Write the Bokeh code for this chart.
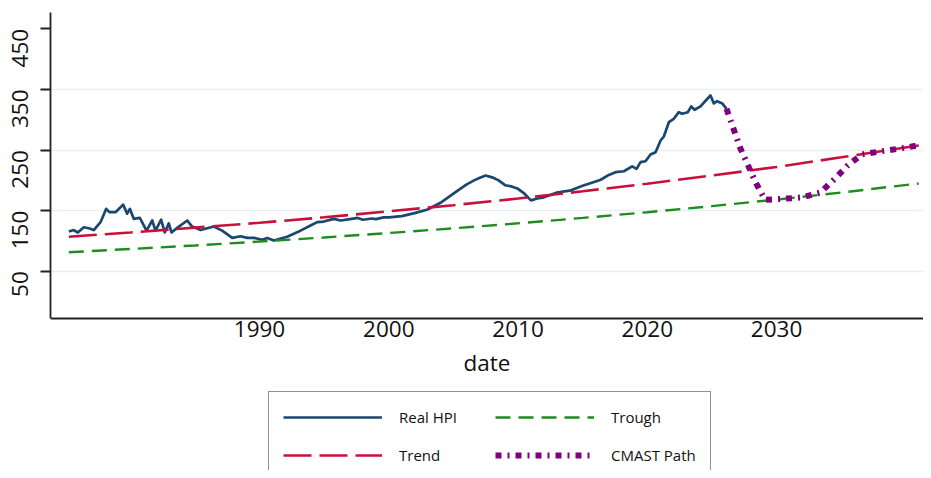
import math
from bokeh.plotting import figure
from bokeh.models import FixedTicker, Legend, LegendItem, Range1d
from bokeh.embed import file_html
from bokeh.resources import INLINE

# ---- data ----
hpi_year = [1975.25, 1975.63, 1975.94, 1976.41, 1976.79, 1977.18, 1977.70, 1978.14, 1978.39, 1978.86,
            1979.45, 1979.76, 1979.97, 1980.27, 1980.74, 1981.26, 1981.70, 1981.95, 1982.39, 1982.67,
            1982.98, 1983.19, 1983.63, 1984.41, 1984.79, 1985.44, 1986.46, 1987.11, 1987.89, 1988.53,
            1989.05, 1989.56, 1990.21, 1990.60, 1991.11, 1992.14, 1993.17, 1993.95, 1994.46, 1994.97,
            1995.75, 1996.27, 1997.0, 1997.6, 1998.0, 1998.7, 1999.0, 1999.6, 2000.0, 2001.0,
            2002.0, 2003.0, 2004.0, 2005.0, 2006.0, 2006.6, 2007.0, 2007.5, 2008.0, 2008.5,
            2009.0, 2009.5, 2010.0, 2010.5, 2011.0, 2011.5, 2012.0, 2012.5, 2013.0, 2014.0,
            2015.0, 2016.0, 2016.4, 2017.03, 2017.54, 2018.19, 2018.83, 2019.17, 2019.48, 2019.86,
            2020.25, 2020.64, 2021.03, 2021.28, 2021.67, 2022.05, 2022.44, 2022.70, 2023.14, 2023.40,
            2023.66, 2024.12, 2024.58, 2024.89, 2025.15, 2025.41, 2025.80, 2026.13]
hpi_value = [115.5, 118, 114, 122.6, 121, 118, 131, 153, 147.5, 147.5,
             160, 145, 153, 136.5, 138, 117, 133.7, 117, 135, 114,
             129, 114, 121.6, 133.7, 123.8, 118, 123.8, 117, 105, 107.8,
             105, 105, 102, 105, 100.7, 107, 117, 125.5, 131, 132,
             136.5, 133.7, 136, 138, 135, 137, 136, 139, 139, 141,
             146, 152, 163, 178, 193, 200, 204, 208, 205, 200,
             192, 190, 186, 178, 167, 170, 172, 176, 180, 183,
             191, 198, 201, 209, 213.5, 215, 223, 219, 230, 231.6,
             242.7, 246.5, 265.8, 272.4, 296, 301.6, 312.5, 310, 312.5, 322,
             316.5, 322, 333, 340, 327, 330.7, 327, 318]

trend_year = [1975.25, 1980, 1985, 1990, 1995, 2000, 2005, 2010, 2015, 2020, 2025, 2030, 2035, 2041]
trend_value = [107, 114, 122, 130, 139, 149, 159, 170, 182, 194.5, 208, 222, 238, 257.5]

trough_year = [1975.25, 1980, 1985, 1990, 1995, 2000, 2005, 2010, 2015, 2020, 2025, 2030, 2035, 2041]
trough_value = [81.4, 86.7, 92.6, 99.0, 105.8, 113.1, 120.8, 129.1, 138.0, 147.4, 157.5, 168.3, 179.9, 194.8]

cmast_year = [2026.13, 2027.2, 2028.4, 2029.1, 2030.5, 2032.0, 2033.4, 2034.5, 2035.5, 2036.6,
              2038.1, 2039.6, 2040.9]
cmast_value = [318, 253, 196, 168, 169.5, 172, 180, 202.5, 224.5, 242.7, 248, 252.6, 257.5]

y_ticks = [50, 150, 250, 350, 450]
y_grid = [50, 150, 250, 350]
x_ticks = [1990, 2000, 2010, 2020, 2030]
y_axis_bounds = (-28, 477)      # visible extent of the value axis
y_view = (-278.8, 477)           # room below the axis for the legend

FONT = "Open Sans"

p = figure(width=923, height=470, output_backend="svg", toolbar_location=None,
           x_range=Range1d(1973.83, 2041.37), y_range=Range1d(*y_view),
           min_border_left=50, min_border_right=0, min_border_top=12, min_border_bottom=0)
p.outline_line_color = None
p.background_fill_color = "white"
p.border_fill_color = "white"

r_hpi = p.line(hpi_year, hpi_value, line_color="#1a476f", line_width=2.7, line_join="round")
r_trend = p.line(trend_year, trend_value, line_color="#c9103d", line_width=2.6, line_dash="28 8")
r_trough = p.line(trough_year, trough_value, line_color="#1f8c1f", line_width=2.4, line_dash="15 8")
r_cmast = p.line(cmast_year, cmast_value, line_color="#800080", line_width=6, line_dash="6 6 2 6")

# axes
p.xaxis.ticker = FixedTicker(ticks=x_ticks)
p.yaxis.ticker = FixedTicker(ticks=y_ticks)
p.xaxis.fixed_location = y_axis_bounds[0]
p.yaxis.bounds = y_axis_bounds
p.xgrid.visible = False
p.ygrid.ticker = FixedTicker(ticks=y_grid)
p.ygrid.grid_line_color = "#e6eff1"
p.ygrid.grid_line_width = 1.6

for ax in (p.xaxis, p.yaxis):
    ax.axis_line_color = "#222222"
    ax.axis_line_width = 1.8
    ax.minor_tick_line_color = None
    ax.major_label_text_font = FONT
    ax.major_label_text_font_size = "22.5px"
    ax.major_label_text_color = "#111111"

p.xaxis.major_tick_out = 0
p.xaxis.major_tick_in = 0
p.xaxis.major_label_standoff = 2
p.xaxis.axis_label = "date"
p.xaxis.axis_label_text_font = FONT
p.xaxis.axis_label_text_font_size = "22.5px"
p.xaxis.axis_label_text_font_style = "normal"
p.xaxis.axis_label_text_color = "#111111"
p.xaxis.axis_label_standoff = 7

p.yaxis.major_tick_out = 10
p.yaxis.major_tick_in = 0
p.yaxis.major_tick_line_color = "#222222"
p.yaxis.major_tick_line_width = 1.8
p.yaxis.major_label_orientation = math.pi / 2
p.yaxis.major_label_standoff = 20

legend = Legend(items=[LegendItem(label="Real HPI", renderers=[r_hpi]),
                       LegendItem(label="Trend", renderers=[r_trend]),
                       LegendItem(label="Trough", renderers=[r_trough]),
                       LegendItem(label="CMAST Path", renderers=[r_cmast])],
                location=(218, -11), ncols=2, orientation="vertical")
legend.border_line_color = "#222222"
legend.border_line_width = 1.5
legend.background_fill_color = "white"
legend.background_fill_alpha = 1
legend.padding = 14
legend.spacing = 16
legend.margin = 0
legend.glyph_width = 99
legend.glyph_height = 22
legend.label_height = 22
legend.label_width = 80
legend.label_standoff = 17
legend.label_text_font = FONT
legend.label_text_font_size = "15px"
legend.label_text_color = "#111111"
p.add_layout(legend, "center")

open("out.html", "w").write(file_html(p, INLINE))
